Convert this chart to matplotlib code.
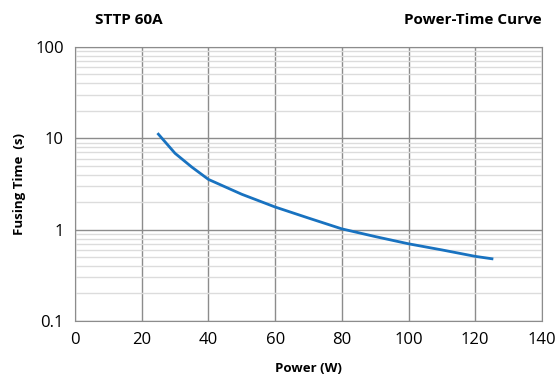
import numpy as np
from matplotlib import pyplot as plt
from matplotlib.ticker import LogLocator, NullFormatter, FixedLocator, FixedFormatter

plt.rcParams['font.family'] = ['Open Sans', 'DejaVu Sans']

power = [25, 30, 35, 40, 50, 60, 70, 80, 90, 100, 110, 120, 125]
fusing_time = [11.1, 6.85, 4.85, 3.55, 2.44, 1.77, 1.34, 1.02, 0.84, 0.70, 0.60, 0.51, 0.48]

x_ticks = [0, 20, 40, 60, 80, 100, 120, 140]
y_ticks = [0.1, 1, 10, 100]
y_labels = ['0.1', '1', '10', '100']

fig = plt.figure(figsize=(5.58, 3.83), dpi=100)
ax = fig.add_axes([0.1344, 0.1619, 0.8369, 0.7154])

ax.plot(power, fusing_time, color='#1872c0', lw=2, zorder=3)

ax.set_yscale('log')
ax.set_xlim(0, 140)
ax.set_ylim(0.1, 100)
ax.set_xticks(x_ticks)
ax.yaxis.set_major_locator(FixedLocator(y_ticks))
ax.yaxis.set_major_formatter(FixedFormatter(y_labels))
ax.yaxis.set_minor_locator(LogLocator(base=10, subs=np.arange(2, 10)))
ax.yaxis.set_minor_formatter(NullFormatter())

ax.grid(which='major', axis='both', color='#8c8c8c', lw=1)
ax.grid(which='minor', axis='y', color='#dcdcdc', lw=1)
ax.tick_params(which='both', length=0, labelsize=12, pad=8)
for s in ax.spines.values():
    s.set_color('#8c8c8c')

ax.set_xlabel('Power (W)', fontsize=9.5, fontweight='bold', labelpad=10)
ax.set_ylabel('Fusing Time  (s)', fontsize=9.5, fontweight='bold', labelpad=7)

fig.text(95 / 558, 1 - 20 / 383, 'STTP 60A', fontsize=11, fontweight='bold', va='center', ha='left')
fig.text(542 / 558, 1 - 20 / 383, 'Power-Time Curve', fontsize=11, fontweight='bold', va='center', ha='right')

fig.savefig('out.png', dpi=100)
